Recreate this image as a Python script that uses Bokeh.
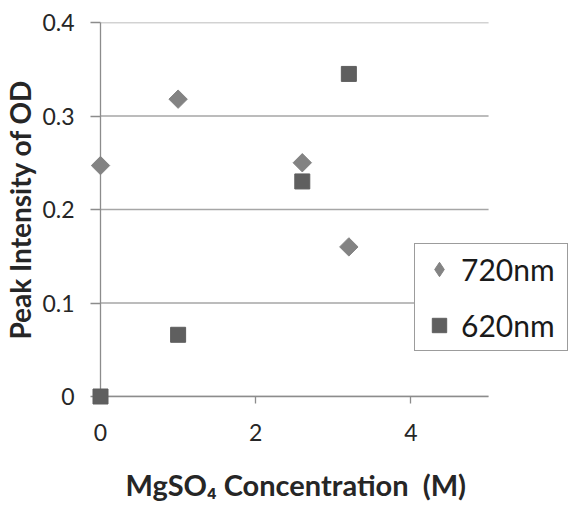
from bokeh.plotting import figure
from bokeh.models import FixedTicker, Legend, LegendItem, Range1d
from bokeh.embed import file_html
from bokeh.resources import INLINE
import math

conc_720 = [0, 1, 2.6, 3.2]
od_720 = [0.247, 0.318, 0.250, 0.160]
conc_620 = [0, 1, 2.6, 3.2]
od_620 = [0.0, 0.066, 0.230, 0.345]
x_min, x_max = 0, 5
x_ticks = [0, 2, 4]
y_ticks = [0, 0.1, 0.2, 0.3, 0.4]
y_tick_labels = ["0", "0.1", "0.2", "0.3", "0.4"]
series_names = ["720nm", "620nm"]

FONT = "Lato"
GRID = "#a6a6a6"
AXIS = "#8c8c8c"
TEXT = "#262626"
C720 = "#838383"
C620 = "#5f5f5f"

p = figure(width=568, height=508, output_backend="svg", toolbar_location=None,
           x_range=Range1d(0, 6.03), y_range=Range1d(0, 0.4),
           min_border_left=100, min_border_right=0, min_border_top=22,
           min_border_bottom=112)
p.outline_line_color = None
p.background_fill_color = "white"
p.border_fill_color = "white"

p.xgrid.visible = False
p.ygrid.visible = False
p.segment(x0=[x_min] * len(y_ticks), x1=[x_max] * len(y_ticks),
          y0=y_ticks, y1=y_ticks, line_color=GRID, line_width=1.3)

p.xaxis.ticker = FixedTicker(ticks=x_ticks)
p.xaxis.bounds = (x_min, x_max)
p.yaxis.ticker = FixedTicker(ticks=y_ticks)
p.yaxis.major_label_overrides = {t: l for t, l in zip(y_ticks, y_tick_labels)}

for ax in (p.xaxis, p.yaxis):
    ax.axis_line_color = AXIS
    ax.axis_line_width = 1.3
    ax.major_tick_line_color = AXIS
    ax.major_tick_line_width = 1.3
    ax.minor_tick_line_color = None
    ax.major_tick_in = 0
    ax.major_label_text_font = FONT
    ax.major_label_text_font_size = "23px"
    ax.major_label_text_color = TEXT
    ax.axis_label_text_font = FONT
    ax.axis_label_text_font_style = "bold"
    ax.axis_label_text_color = TEXT
    ax.axis_label_text_font_size = "28px"

p.xaxis.major_tick_out = 7
p.yaxis.major_tick_out = 10
p.xaxis.major_label_standoff = 20
p.yaxis.major_label_standoff = 16
# trailing non-breaking spaces shift the centred title left, over the x = 0..5 span
p.xaxis.axis_label = "MgSO\u2084 Concentration\u00a0\u00a0(M)" + "\u00a0" * 11
p.xaxis.axis_label_text_font_size = "29px"
p.yaxis.axis_label = "Peak Intensity of OD"
p.xaxis.axis_label_standoff = 23
p.yaxis.axis_label_standoff = 2

r1 = p.scatter(conc_720, od_720, marker="square", angle=math.pi / 4, size=13,
               fill_color=C720, line_color=C720, level="overlay")
r2 = p.scatter(conc_620, od_620, marker="square", size=15,
               fill_color=C620, line_color=C620, level="overlay")
# legend-only renderer so the legend shows a diamond symbol
r1_key = p.scatter(conc_720, od_720, marker="diamond", size=13,
                   fill_color=C720, line_color=C720, visible=False)

legend = Legend(items=[LegendItem(label=series_names[0], renderers=[r1_key]),
                       LegendItem(label=series_names[1], renderers=[r2])],
                location=(314, 45))
legend.label_text_font = FONT
legend.label_text_font_size = "30px"
legend.label_text_color = "#1a1a1a"
legend.label_height = 38
legend.glyph_height = 38
legend.glyph_width = 36
legend.label_width = 100
legend.spacing = 18
legend.padding = 6
legend.margin = 0
legend.label_standoff = 4
legend.border_line_color = "#3a3a3a"
legend.border_line_width = 1.5
legend.background_fill_color = "white"
legend.background_fill_alpha = 1.0
p.add_layout(legend)

open("out.html", "w").write(file_html(p, INLINE))
